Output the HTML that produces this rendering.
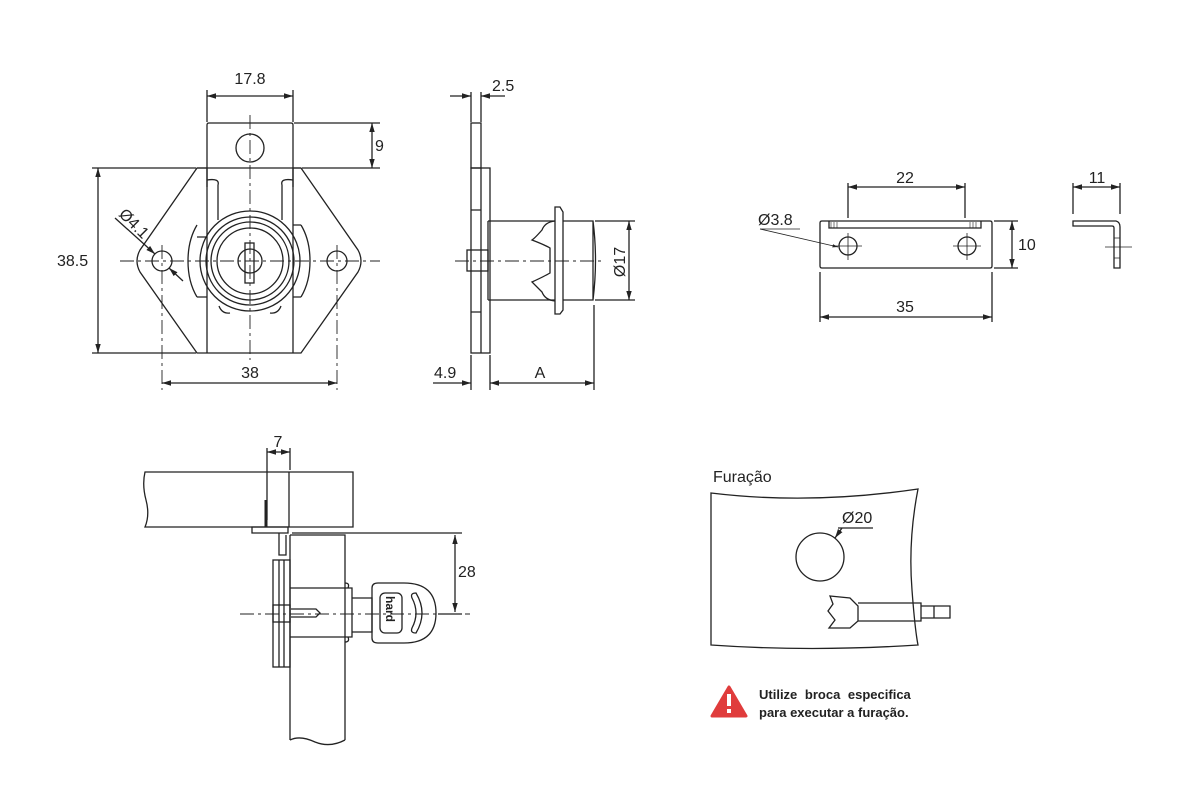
<!DOCTYPE html>
<html><head><meta charset="utf-8"><style>
html,body{margin:0;padding:0;background:#fff}
svg{display:block}
text{font-family:"Liberation Sans",sans-serif;font-size:16px;fill:#222}
</style></head><body>
<svg width="1200" height="802" viewBox="0 0 1200 802" xmlns="http://www.w3.org/2000/svg">
<defs>
<marker id="a" viewBox="0 0 10 10" refX="10" refY="5" markerWidth="7" markerHeight="7" orient="auto-start-reverse"><path d="M0,2 L10,5 L0,8 z" fill="#222"/></marker>
</defs>
<g fill="none" stroke="#222" stroke-width="1.3">
<!-- FRONT VIEW -->
<path d="M207,187 V125 Q207,123 209,123 H291 Q293,123 293,125 V187"/>
<circle cx="250" cy="148" r="14"/>
<path d="M197,168 L140,250 Q134,261 140,272 L197,353 H301 L358,272 Q364,261 358,250 L301,168 Z"/>
<path d="M197,168 H207 V353 M301,168 H293 V353"/>
<path d="M207,180 Q220,178 218,185 V220 M293,180 Q280,178 282,185 V220"/>
<path d="M197,225 Q188,240 188,261 Q188,282 197,297 M301,225 Q310,240 310,261 Q310,282 301,297"/>
<path d="M197,237 H207 M197,297 H207 M293,225 H301 M293,297 H301"/>
<circle cx="250" cy="261" r="50"/>
<circle cx="250" cy="261" r="44"/>
<circle cx="250" cy="261" r="39"/>
<circle cx="250" cy="261" r="33"/>
<circle cx="250" cy="261" r="12"/>
<rect x="245" y="243" width="9" height="40"/>
<path d="M219,306 Q222,314 230,313 M281,306 Q278,314 270,313"/>
<circle cx="162" cy="261" r="10"/>
<circle cx="337" cy="261" r="10"/>
<path d="M120,261 H380 M250,115 V360 M162,245 V390 M337,245 V390" stroke-dasharray="14,4,3,4" stroke-width="0.9"/>
<path d="M207,90 V122 M293,90 V122"/>
<line x1="207" y1="96" x2="293" y2="96" marker-start="url(#a)" marker-end="url(#a)"/>
<path d="M294,123 H380 M302,168 H380"/>
<line x1="372" y1="123" x2="372" y2="168" marker-start="url(#a)" marker-end="url(#a)"/>
<path d="M92,168 H196 M92,353 H196"/>
<line x1="98" y1="168" x2="98" y2="353" marker-start="url(#a)" marker-end="url(#a)"/>
<line x1="162" y1="383" x2="337" y2="383" marker-start="url(#a)" marker-end="url(#a)"/>
<line x1="115" y1="218" x2="155" y2="254" marker-end="url(#a)"/>
<line x1="183" y1="281" x2="169" y2="268" marker-end="url(#a)"/>
<!-- SIDE VIEW -->
<rect x="471" y="123" width="10" height="45"/>
<rect x="471" y="168" width="19" height="185"/>
<path d="M481,168 V353 M471,210 H481 M471,312 H481"/>
<rect x="467" y="250" width="21" height="21"/>
<path d="M488,221 H555 M488,300 H555 M488,221 V300"/>
<path d="M555,221 Q545,222 542,230 Q535,238 532,240 Q545,245 550,248 V273 Q545,276 532,282 Q535,285 542,292 Q545,300 555,301"/>
<path d="M555,207 H560 L563,212 V310 L560,314 H555 Z"/>
<path d="M563,221 H593 V300 H563 M593,221 Q598,260 593,300"/>
<path d="M455,261 H605" stroke-dasharray="14,4,3,4" stroke-width="0.9"/>
<path d="M471,92 V122 M481,92 V122"/>
<line x1="450" y1="96" x2="471" y2="96" marker-end="url(#a)"/>
<line x1="505" y1="96" x2="481" y2="96" marker-end="url(#a)"/>
<path d="M471,355 V390 M490,355 V390 M594,305 V390 M595,221 H635 M595,300 H635"/>
<line x1="433" y1="383" x2="471" y2="383" marker-end="url(#a)"/>
<line x1="490" y1="383" x2="594" y2="383" marker-start="url(#a)" marker-end="url(#a)"/>
<line x1="629" y1="221" x2="629" y2="300" marker-start="url(#a)" marker-end="url(#a)"/>
<!-- STRIKE PLATE -->
<path d="M822,221 H990 Q992,221 992,223 V266 Q992,268 990,268 H822 Q820,268 820,266 V223 Q820,221 822,221 Z"/>
<path d="M829,221 V228 H981 V221"/>
<path d="M831,222 V228 M834,222 V228 M837,222 V228 M970,222 V228 M973,222 V228 M976,222 V228" stroke-width="0.6"/>
<circle cx="848" cy="246" r="9"/><circle cx="967" cy="246" r="9"/>
<path d="M834,246 H862 M848,233 V260 M953,246 H981 M967,233 V260" stroke-width="0.8"/>
<path d="M848,183 V218 M965,183 V218"/>
<line x1="848" y1="187" x2="965" y2="187" marker-start="url(#a)" marker-end="url(#a)"/>
<path d="M820,272 V322 M992,272 V322 M994,221 H1018 M994,268 H1018"/>
<line x1="820" y1="317" x2="992" y2="317" marker-start="url(#a)" marker-end="url(#a)"/>
<line x1="1012" y1="221" x2="1012" y2="268" marker-start="url(#a)" marker-end="url(#a)"/>
<line x1="760" y1="229" x2="838" y2="247" marker-end="url(#a)" stroke-width="0.8"/>
<path d="M760,229 H800" stroke-width="0.8"/>
<path d="M1073,221 H1116 Q1120,222 1120,227 V268 H1114 V228 Q1114,226 1112,226 H1073 Z"/>
<path d="M1114,238 H1120 M1114,258 H1120 M1105,247 H1132" stroke-width="0.8"/>
<path d="M1073,183 V214 M1120,183 V214"/>
<line x1="1073" y1="187" x2="1120" y2="187" marker-start="url(#a)" marker-end="url(#a)"/>
<!-- SECTION VIEW -->
<path d="M145,472 H353 V527 H145 Q150,515 146,500 Q142,485 145,472 Z"/>
<path d="M289,472 V527"/>
<path d="M252,527 H288 V533 H252 Z"/>
<path d="M266,500 V527" stroke-width="3"/>
<path d="M279,533 V555 H286 V535"/>
<path d="M290,535 H345 V740 M290,535 V740"/>
<path d="M290,740 Q300,735 315,742 Q330,748 345,740"/>
<rect x="273" y="560" width="17" height="107"/>
<path d="M279,560 V667 M284,560 V667"/>
<path d="M290,588 H352 V637 H290"/>
<path d="M345,583 Q350,583 348,588 M345,642 Q350,642 348,637"/>
<path d="M352,598 H372 V632 H352"/>
<rect x="273" y="605" width="17" height="17"/>
<path d="M291,609 H316 L320,613 L316,617 H291" />
<path d="M372,594 V638 Q372,643 378,643 H404 Q436,643 436,613 Q436,583 404,583 H378 Q372,583 372,588 Z"/>
<rect x="380" y="593" width="22" height="40" rx="5"/>
<path d="M416,593 Q428,613 416,633 Q410,633 412,628 Q420,613 412,598 Q410,593 416,593 Z"/>
<path d="M240,614 H470" stroke-dasharray="14,4,3,4" stroke-width="0.9"/>
<path d="M267,448 V520 M290,448 V470 M292,533 H462 M438,614 H462"/>
<line x1="267" y1="452" x2="290" y2="452" marker-start="url(#a)" marker-end="url(#a)"/>
<line x1="455" y1="535" x2="455" y2="612" marker-start="url(#a)" marker-end="url(#a)"/>
<!-- FURACAO -->
<path d="M711,493 Q810,505 918,489 Q908,540 912,590 Q915,630 918,645 Q810,652 711,645 Z"/>
<circle cx="820" cy="557" r="24"/>
<path d="M838,528 H873"/>
<line x1="842" y1="528" x2="835" y2="538" marker-end="url(#a)"/>
<path d="M830,596 L850,598 L858,606 V621 L850,628 L829,628 L835,620 L828,611 L833,604 Z"/>
<path d="M858,603 H921 V621 H858 M921,606 H950 V618 H921 M934,606 V618"/>
</g>
<text x="250" y="84" text-anchor="middle">17.8</text>
<text x="375" y="151">9</text>
<text x="57" y="266">38.5</text>
<text x="250" y="378" text-anchor="middle">38</text>
<text transform="translate(118,215) rotate(45)">Ø4.1</text>
<text x="492" y="91">2.5</text>
<text x="434" y="378">4.9</text>
<text x="540" y="378" text-anchor="middle">A</text>
<text transform="translate(625,262) rotate(-90)" text-anchor="middle">Ø17</text>
<text x="905" y="183" text-anchor="middle">22</text>
<text x="758" y="225">Ø3.8</text>
<text x="1018" y="250">10</text>
<text x="905" y="312" text-anchor="middle">35</text>
<text x="1097" y="183" text-anchor="middle">11</text>
<text x="278" y="447" text-anchor="middle">7</text>
<text x="458" y="577">28</text>
<text x="713" y="482">Furação</text>
<text x="842" y="523">Ø20</text>
<path d="M729,687 L746,716 H712 Z" fill="#e03c3c" stroke="#e03c3c" stroke-width="3" stroke-linejoin="round"/>
<rect x="727" y="694" width="4" height="12" fill="#fff"/><rect x="727" y="709" width="4" height="4" fill="#fff"/>
<text x="759" y="699" style="font-size:13px;font-weight:bold;word-spacing:4px">Utilize broca especifica</text>
<text x="759" y="717" style="font-size:13px;font-weight:bold">para executar a furação.</text>
<text transform="translate(386,596) rotate(90)" style="font-size:12px;font-weight:bold">hard</text>
</svg>
</body></html>
